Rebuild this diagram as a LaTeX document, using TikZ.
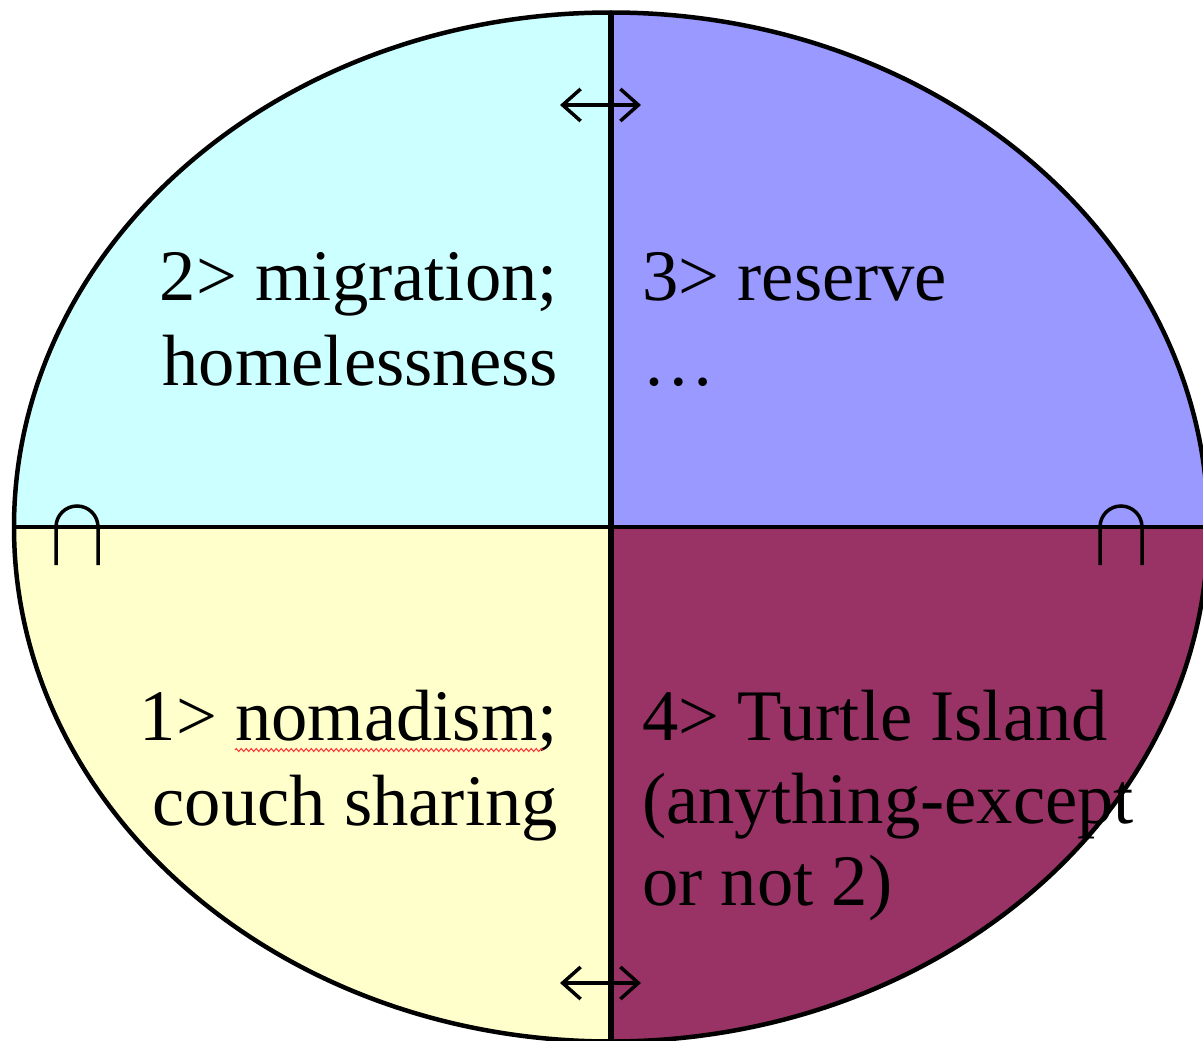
\documentclass[tikz,border=0pt]{standalone}
\usepackage{fontspec}
\setmainfont{Liberation Serif}
\usetikzlibrary{arrows.meta,decorations.pathmorphing}
\definecolor{qcyan}{HTML}{CCFFFF}
\definecolor{qblue}{HTML}{9999FF}
\definecolor{qyellow}{HTML}{FFFFCC}
\definecolor{qplum}{HTML}{993366}
\tikzset{
  qtext/.style={inner sep=0pt,font=\fontsize{72.6}{85}\selectfont},
  divider/.style={line width=4.5pt,black},
  dblarrow/.style={line width=3.5pt,{Straight Barb[length=18pt,width=32pt,line width=3.5pt]}-{Straight Barb[length=18pt,width=32pt,line width=3.5pt]}},
  archsym/.style={line width=3.5pt,black}
}
\begin{document}
\begin{tikzpicture}[x=1pt,y=-1pt]
\useasboundingbox (0,0) rectangle (1203,1041);
\clip (0,0) rectangle (1203,1041);
\coordinate (C) at (611,527);
% quadrant fills
\begin{scope}
  \clip (C) ellipse [x radius=597, y radius=514.5];
  \fill[qcyan] (0,0) rectangle (C);
  \fill[qblue] (611,0) rectangle (1300,527);
  \fill[qyellow] (0,527) rectangle (611,1100);
  \fill[qplum] (C) rectangle (1300,1100);
\end{scope}
% texts
\node[qtext,anchor=base east] (t2a) at (558,300) {2> migration;};
\node[qtext,anchor=base east] (t2b) at (558,385) {homelessness};
\node[qtext,anchor=base west] (t3a) at (642,300) {3> reserve};
\node[qtext,anchor=base west] (t3b) at (642,385) {…};
\node[qtext,anchor=base east] (t1a) at (558,740) {1> nomadism;};
\node[qtext,anchor=base east] (t1b) at (558,825) {couch sharing};
\node[qtext,anchor=base west] (t4a) at (642,740) {4> Turtle Island};
\node[qtext,anchor=base west] (t4b) at (642,823) {(anything-except};
\node[qtext,anchor=base west] (t4c) at (642,905) {or not 2)};
% spell-check underline
\coordinate (w1) at (235,750);
\coordinate (w2) at (543,750);
\draw[red!80!white,line width=1pt,decorate,decoration={zigzag,segment length=5pt,amplitude=1.5pt}] (w1) -- (w2);
% dividers
\coordinate (top) at (611,12.5);
\coordinate (bot) at (611,1041);
\coordinate (lft) at (14,527);
\coordinate (rgt) at (1210,527);
\draw[divider,line width=6pt] (top) -- (bot);
\draw[divider] (lft) -- (rgt);
% outline
\draw[line width=4.5pt] (C) ellipse [x radius=597, y radius=514.5];
% double arrows
\coordinate (a1) at (560,105);
\coordinate (a2) at (641,105);
\coordinate (b1) at (560,983);
\coordinate (b2) at (641,983);
\draw[dblarrow] (a1) -- (a2);
\draw[dblarrow] (b1) -- (b2);
% arch symbols
\draw[archsym] (56,565) -- (56,527) arc[start angle=180,end angle=360,radius=21] -- (98,565);
\draw[archsym] (1100,565) -- (1100,527) arc[start angle=180,end angle=360,radius=21] -- (1142,565);
\end{tikzpicture}
\end{document}
